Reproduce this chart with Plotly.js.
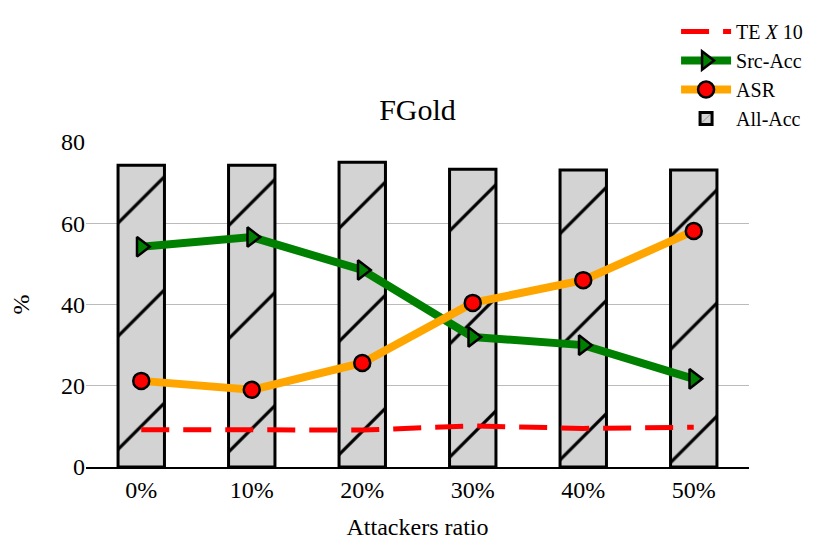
<!DOCTYPE html>
<html>
<head>
<meta charset="utf-8">
<script src="https://cdn.plot.ly/plotly-3.0.1.min.js"></script>
<style>
  html, body { margin: 0; padding: 0; background: #fff; }
  #chart { width: 830px; height: 555px; }
</style>
</head>
<body>
<div id="chart"></div>
<script>
// categories on the x axis
const ratios = ['0%', '10%', '20%', '30%', '40%', '50%'];

// series values (percent)
const teX10 = [9.2, 9.0, 9.1, 10.1, 9.5, 9.8];
const srcAcc = [54.2, 56.6, 48.5, 32.0, 30.0, 21.7];
const asr = [21.2, 19.0, 25.6, 40.4, 46.0, 58.1];
const allAcc = [74.3, 74.3, 75.0, 73.3, 73.1, 73.1];

const serif = 'Liberation Serif, Times New Roman, serif';

var traces = [
    {
        x: ratios, y: teX10, name: 'TE <i>X</i> 10',
        type: 'scatter', mode: 'lines',
        line: { color: '#ff0000', width: 5, dash: '28px,14px' }
    },
    {
        x: ratios, y: srcAcc, name: 'Src-Acc',
        type: 'scatter', mode: 'lines+markers',
        line: { color: '#008000', width: 8 },
        marker: { symbol: 'triangle-right', size: 17, color: '#008000',
                  line: { color: '#000', width: 2.5 } }
    },
    {
        x: ratios, y: asr, name: 'ASR',
        type: 'scatter', mode: 'lines+markers',
        line: { color: '#ffa500', width: 8 },
        marker: { symbol: 'circle', size: 16, color: '#ff0000',
                  line: { color: '#000', width: 2.5 } }
    },
    {
        x: ratios, y: allAcc, name: 'All-Acc',
        type: 'bar', width: 0.42,
        marker: {
            color: '#d3d3d3',
            line: { color: '#000', width: 3 },
            pattern: { shape: '/', size: 80, solidity: 0.04,
                       fgcolor: '#000', bgcolor: '#d3d3d3' }
        }
    }
];

var layout = {
    width: 830, height: 555,
    margin: { l: 86, r: 81, t: 142, b: 88 },
    paper_bgcolor: '#fff', plot_bgcolor: '#fff',
    font: { family: serif, size: 24, color: '#000' },
    title: {
        text: 'FGold', font: { family: serif, size: 30 },
        x: 0.503, xref: 'container', xanchor: 'center',
        y: 0.803, yref: 'container', yanchor: 'middle'
    },
    showlegend: true,
    legend: {
        x: 0.89, xanchor: 'left', y: 1.40, yanchor: 'top',
        font: { family: serif, size: 20 },
        itemwidth: 50,
        bgcolor: 'rgba(0,0,0,0)', tracegroupgap: 0
    },
    xaxis: {
        type: 'category', range: [-0.5, 5.5],
        showgrid: false, showline: true, linecolor: '#000', linewidth: 2,
        ticks: '', ticklen: 0,
        title: { text: 'Attackers ratio', font: { family: serif, size: 24 }, standoff: 16 }
    },
    yaxis: {
        range: [0, 80], tickvals: [0, 20, 40, 60, 80],
        showgrid: true, gridcolor: '#bbbbbb', gridwidth: 1,
        zeroline: false, showline: false, ticks: '',
        title: { text: '%', font: { family: serif, size: 24 }, standoff: 24 }
    }
};

Plotly.newPlot('chart', traces, layout, { displayModeBar: false, staticPlot: true });
</script>
</body>
</html>
